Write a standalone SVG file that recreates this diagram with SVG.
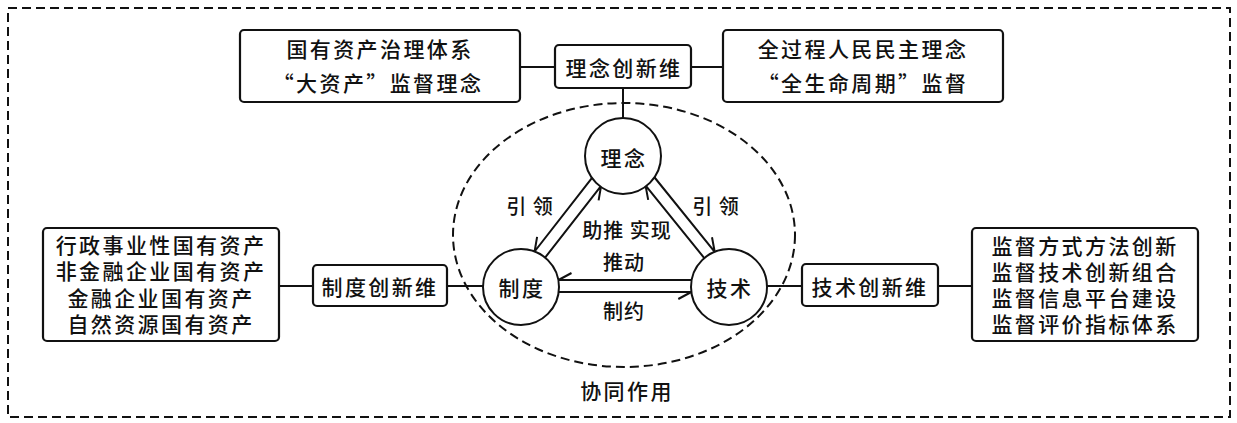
<svg xmlns="http://www.w3.org/2000/svg" width="1237" height="423" viewBox="0 0 1237 423">
<style>
text{font-family:"Noto Sans CJK SC","Liberation Sans",sans-serif;fill:#111;text-anchor:middle;dominant-baseline:central;font-weight:500}
.bt{font-size:21px;letter-spacing:2.4px}
.lb{font-size:20px;letter-spacing:1px}
.box{fill:#fff;stroke:#111;stroke-width:2.2}
.cir{fill:#fff;stroke:#111;stroke-width:2}
.ln{fill:none;stroke:#111;stroke-width:2}
.dash{fill:none;stroke:#111;stroke-width:2;stroke-dasharray:9 5}
</style>
<rect x="0" y="0" width="1237" height="423" fill="#fff"/>
<rect class="dash" x="8" y="8" width="1222" height="409"/>
<ellipse class="dash" cx="624" cy="235" rx="171" ry="132" stroke-dasharray="8 5"/>
<g id="connectors">
<line class="ln" x1="520" y1="67" x2="555" y2="67"/>
<line class="ln" x1="691" y1="67" x2="723" y2="67"/>
<line class="ln" x1="623" y1="88" x2="623" y2="118"/>
<line class="ln" x1="279" y1="286" x2="313" y2="286"/>
<line class="ln" x1="447" y1="286" x2="483" y2="286"/>
<line class="ln" x1="767" y1="286" x2="802" y2="286"/>
<line class="ln" x1="938" y1="286" x2="972" y2="286"/>
<path class="ln" d="M592.6,177.1 L534.6,251.5 L537.1,236.9"/>
<path class="ln" d="M545.1,257.6 L601.1,185.8 L598.6,200.4"/>
<path class="ln" d="M653.8,176.5 L714.7,251.8 L712.0,237.3"/>
<path class="ln" d="M704.3,258.1 L645.5,185.4 L648.2,199.9"/>
<path class="ln" d="M691.5,280 L558.5,280 L571.5,273"/>
<path class="ln" d="M558.7,292 L691.3,292 L678.3,299"/>
</g>
<g id="n-top-left"><rect class="box" x="240" y="30" width="280" height="72" rx="4"/>
<text class="bt" x="380" y="48">国有资产治理体系</text><text class="bt" x="378" y="82">“大资产”监督理念</text></g>
<g id="n-linian-wei"><rect class="box" x="555" y="45" width="136" height="43" rx="4"/>
<text class="bt" x="624" y="67">理念创新维</text></g>
<g id="n-top-right"><rect class="box" x="723" y="30" width="280" height="72" rx="4"/>
<text class="bt" x="863" y="48">全过程人民民主理念</text><text class="bt" x="863" y="82">“全生命周期”监督</text></g>
<g id="n-left"><rect class="box" x="43" y="228" width="236" height="113" rx="4"/>
<text class="bt" x="161" y="244">行政事业性国有资产</text><text class="bt" x="161" y="270">非金融企业国有资产</text><text class="bt" x="161" y="297">金融企业国有资产</text><text class="bt" x="161" y="323">自然资源国有资产</text></g>
<g id="n-zhidu-wei"><rect class="box" x="313" y="265" width="134" height="41" rx="4"/>
<text class="bt" x="380" y="286">制度创新维</text></g>
<g id="n-jishu-wei"><rect class="box" x="802" y="264" width="136" height="42" rx="4"/>
<text class="bt" x="870" y="286">技术创新维</text></g>
<g id="n-right"><rect class="box" x="972" y="228" width="226" height="113" rx="4"/>
<text class="bt" x="1085" y="245">监督方式方法创新</text><text class="bt" x="1085" y="271">监督技术创新组合</text><text class="bt" x="1085" y="297">监督信息平台建设</text><text class="bt" x="1085" y="323">监督评价指标体系</text></g>
<g id="n-linian"><circle class="cir" cx="623" cy="156" r="38"/><text class="bt" x="624" y="157">理念</text></g>
<g id="n-zhidu"><circle class="cir" cx="521" cy="287" r="38"/><text class="bt" x="522" y="287">制度</text></g>
<g id="n-jishu"><circle class="cir" cx="729" cy="287" r="38"/><text class="bt" x="730" y="287">技术</text></g>
<g id="labels">
<text class="lb" x="530" y="205">引 领</text>
<text class="lb" x="716" y="205">引 领</text>
<text class="lb" x="627" y="229">助推 实现</text>
<text class="lb" x="624" y="261">推动</text>
<text class="lb" x="624" y="310">制约</text>
<text class="bt" x="627" y="390">协同作用</text>
</g>
</svg>
